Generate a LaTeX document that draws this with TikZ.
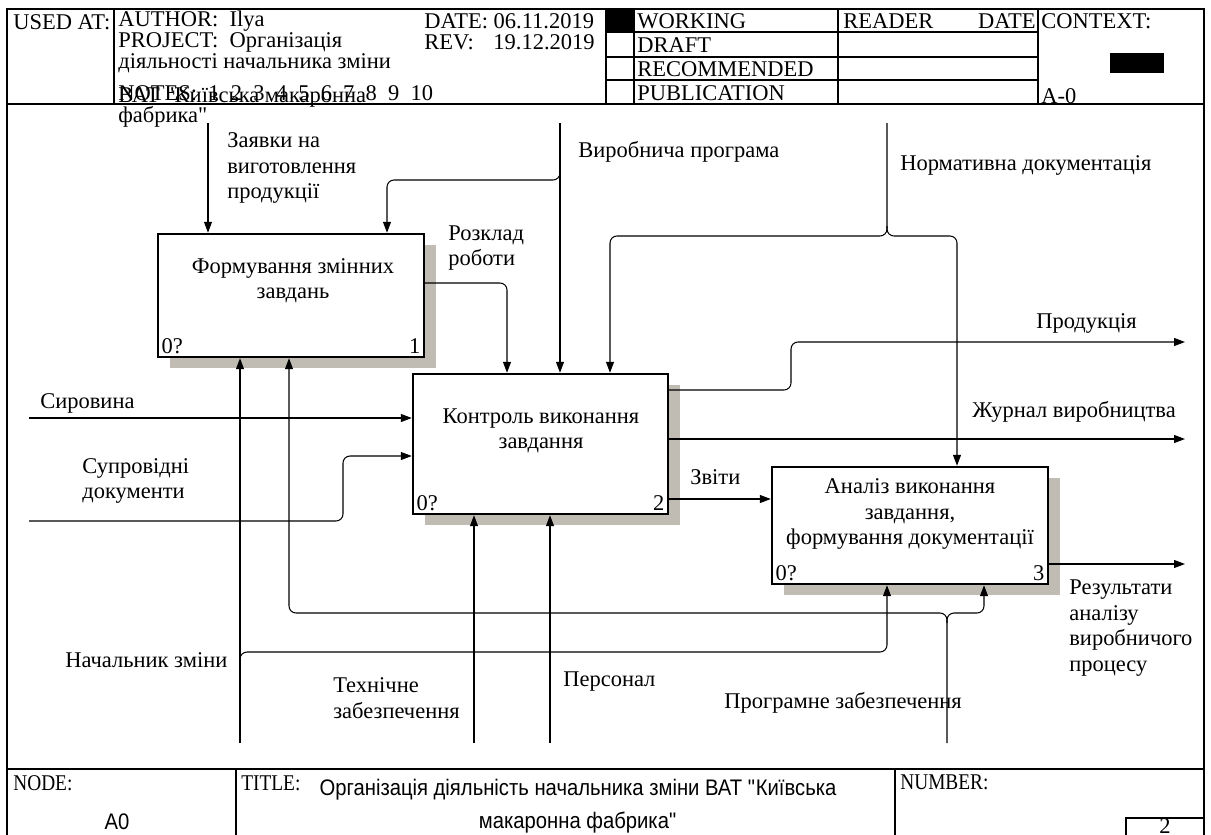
\documentclass[tikz,border=0pt]{standalone}
\usepackage{fontspec}
\setmainfont{Liberation Serif}
\newfontfamily\titlefont[FakeStretch=0.9]{Liberation Sans}
\newfontfamily\footserif[FakeStretch=0.86]{Liberation Serif}
\usetikzlibrary{positioning,arrows.meta,shadows}
\definecolor{shadowgray}{RGB}{192,188,180}

\begin{document}
\begin{tikzpicture}[x=0.02cm, y=-0.02cm]
% STYLES
\tikzset{%
    rule/.style={line width=0.6pt},
    func/.style={%
draw,
line width=1.4pt,
fill=white,
inner sep=0pt,
drop shadow={shadow xshift=0.24cm, shadow yshift=-0.22cm, fill=shadowgray, opacity=1}
                },
    functext/.style={align=center, inner sep=0pt, font=\fontsize{12.8}{14.4}\selectfont},
    corner/.style={inner xsep=2.5pt, inner ysep=2.5pt, font=\fontsize{12.8}{14.4}\selectfont},
    flow/.style={line width=0.6pt, rounded corners=4pt, -{Triangle[length=0.22cm, width=0.16cm]}},
    lbl/.style={anchor=west, align=left, inner sep=0pt, font=\fontsize{12.8}{14.6}\selectfont},
    hdr/.style={anchor=west, inner sep=0pt, font=\fontsize{12.8}{14}\selectfont},
    foot/.style={anchor=west, inner sep=0pt, font=\footserif\fontsize{12.8}{14}\selectfont},
    titletext/.style={align=center, inner sep=0pt, font=\titlefont\fontsize{12.8}{18.8}\selectfont}
             }
\useasboundingbox (0,0) rectangle (1211,835);

% Draw frame
\draw[rule] (7,840) -- (7,9) -- (1204,9) -- (1204,840);
\draw[rule] (7,104) -- (1204,104);
\draw[rule] (114,9) -- (114,104);
\draw[rule] (606,9) -- (606,104);
\draw[rule] (634,9) -- (634,104);
\draw[rule] (838,9) -- (838,104);
\draw[rule] (1038,9) -- (1038,104);
\foreach \y in {32,57,80}
  \draw[rule] (606,\y) -- (1038,\y);
\fill (607,9) rectangle (633,32);
\fill (1110,53) rectangle (1164,73);
\draw[rule] (7,769) -- (1204,769);
\draw[rule] (236,769) -- (236,840);
\draw[rule] (895,769) -- (895,840);
\draw[rule] (1126,840) -- (1126,818) -- (1204,818);

% Header texts
\node[hdr] (usedat) at (13,22) {USED AT:};
\node[hdr] (author) at (118,21) {AUTHOR:\enspace Ilya};
\node[hdr] (project) at (118,42) {PROJECT:\enspace Організація};
\node[hdr] (projb) at (118,63) {діяльності начальника зміни};
\node[hdr] (notes) at (118,93) {NOTES:\enspace 1\enspace 2\enspace 3\enspace 4\enspace 5\enspace 6\enspace 7\enspace 8\enspace 9\enspace 10};
\node[hdr] (projc) at (118,97) {ВАТ \textquotedbl Київська макаронна};
\node[hdr] (projd) at (118,117) {фабрика\textquotedbl};
\node[hdr] (date) at (424,21) {DATE: 06.11.2019};
\node[hdr] (rev) at (424,42) {REV:};
\node[hdr, anchor=east] (revdate) at (595,42) {19.12.2019};
\node[hdr] (working) at (637,21) {WORKING};
\node[hdr] (draft) at (637,45) {DRAFT};
\node[hdr] (recommended) at (637,69) {RECOMMENDED};
\node[hdr] (publication) at (637,93) {PUBLICATION};
\node[hdr] (reader) at (843,21) {READER};
\node[hdr, anchor=east] (readdate) at (1036,21) {DATE};
\node[hdr] (context) at (1041,21) {CONTEXT:};
\node[hdr] (ctxnode) at (1041,96) {A-0};

% Draw functions
\node[func, minimum width=5.32cm, minimum height=2.46cm] (f1) at (291,295.5) {};
\node[func, minimum width=5.1cm, minimum height=2.8cm] (k2) at (540.5,444) {};
\node[func, minimum width=5.52cm, minimum height=2.34cm] (a3) at (910,525.5) {};
\node[functext] (f1text) at (293,281) {Формування змінних\\завдань};
\node[functext] (k2text) at (541,431) {Контроль виконання\\завдання};
\node[functext] (a3text) at (910,514) {Аналіз виконання\\завдання,\\формування документації};
\node[corner, anchor=south west] (f1ref) at (f1.south west) {0?};
\node[corner, anchor=south east] (f1num) at (f1.south east) {1};
\node[corner, anchor=south west] (k2ref) at (k2.south west) {0?};
\node[corner, anchor=south east] (k2num) at (k2.south east) {2};
\node[corner, anchor=south west] (a3ref) at (a3.south west) {0?};
\node[corner, anchor=south east] (a3num) at (a3.south east) {3};

% Controls
\coordinate (zin) at (208,123);
\coordinate (vp) at (560,123);
\coordinate (vpj) at (560,180);
\coordinate (vpb) at (387,180);
\coordinate (nd) at (887,123);
\coordinate (ndj) at (887,236);
\coordinate (ndl) at (610,236);
\coordinate (ndr) at (957,236);
\coordinate (rz) at (507,283);
\draw[flow] (zin) -- (zin |- f1.north);
\draw[flow] (vp) -- (vp |- k2.north);
\draw[flow] ([yshift=0.2cm]vpj) -- (vpj) -- (vpb) -- (vpb |- f1.north);
\draw[flow] (nd) -- (ndj) -- (ndl) -- (ndl |- k2.north);
\draw[flow] ([yshift=0.2cm]ndj) -- (ndj) -- (ndr) -- (ndr |- a3.north);
\draw[flow] (f1.east |- rz) -- (rz) -- (rz |- k2.north);

% Inputs
\coordinate (sy) at (29,418);
\coordinate (sd) at (29,521);
\coordinate (sdb) at (343,521);
\coordinate (sdt) at (343,456);
\draw[flow] (sy) -- (sy -| k2.west);
\draw[flow] (sd) -- (sdb) -- (sdt) -- (sdt -| k2.west);

% Outputs
\coordinate (pr) at (1185,342);
\coordinate (prb) at (791,390);
\coordinate (prt) at (791,342);
\coordinate (zh) at (1185,439);
\coordinate (zv) at (720,499);
\coordinate (rs) at (1185,564);
\draw[flow] (k2.east |- prb) -- (prb) -- (prt) -- (pr);
\draw[flow] (k2.east |- zh) -- (zh);
\draw[flow] (k2.east |- zv) -- (zv -| a3.west);
\draw[flow] (a3.east |- rs) -- (rs);

% Mechanisms
\coordinate (nz) at (240,743);
\coordinate (nzj) at (240,652);
\coordinate (nzr) at (887,652);
\coordinate (tz) at (474,743);
\coordinate (ps) at (550,743);
\coordinate (pz) at (947,743);
\coordinate (pzj) at (947,613);
\coordinate (pzl) at (289,613);
\coordinate (pzr) at (984,613);
\draw[flow] (nz) -- (nz |- f1.south);
\draw[flow] ([yshift=-0.2cm]nzj) -- (nzj) -- (nzr) -- (nzr |- a3.south);
\draw[flow] (tz) -- (tz |- k2.south);
\draw[flow] (ps) -- (ps |- k2.south);
\draw[flow] (pz) -- (pzj) -- (pzl) -- (pzl |- f1.south);
\draw[flow] ([yshift=-0.2cm]pzj) -- (pzj) -- (pzr) -- (pzr |- a3.south);

% Arrow labels
\node[lbl] (zlbl) at (227,168) {Заявки на\\виготовлення\\продукції};
\node[lbl] (vplbl) at (578,152) {Виробнича програма};
\node[lbl] (ndlbl) at (900,165) {Нормативна документація};
\node[lbl] (rzlbl) at (448,248) {Розклад\\роботи};
\node[lbl] (prlbl) at (1036,323) {Продукція};
\node[lbl] (zhlbl) at (972,412) {Журнал виробництва};
\node[lbl] (zvlbl) at (690,477) {Звіти};
\node[lbl] (rslbl) at (1069,628) {Результати\\аналізу\\виробничого\\процесу};
\node[lbl] (sylbl) at (40,403) {Сировина};
\node[lbl] (sdlbl) at (82,481) {Супровідні\\документи};
\node[lbl] (nzlbl) at (65,660) {Начальник зміни};
\node[lbl] (tzlbl) at (333,698) {Технічне\\забезпечення};
\node[lbl] (pslbl) at (563,682) {Персонал};
\node[lbl] (pzlbl) at (724,703) {Програмне забезпечення};

% Footer texts
\node[foot] (nodelbl) at (13,783) {NODE:};
\node[font=\titlefont\fontsize{12.8}{14}\selectfont] (nodenum) at (117,822) {A0};
\node[foot] (titlelbl) at (241,783) {TITLE:};
\node[titletext] (title) at (578,806) {Організація діяльність начальника зміни ВАТ \textquotedbl Київська\\макаронна фабрика\textquotedbl};
\node[foot] (numlbl) at (900,782) {NUMBER:};
\node[font=\fontsize{12.8}{14}\selectfont, inner sep=0pt] (pagenum) at (1165,826) {2};
\end{tikzpicture}
\end{document}
